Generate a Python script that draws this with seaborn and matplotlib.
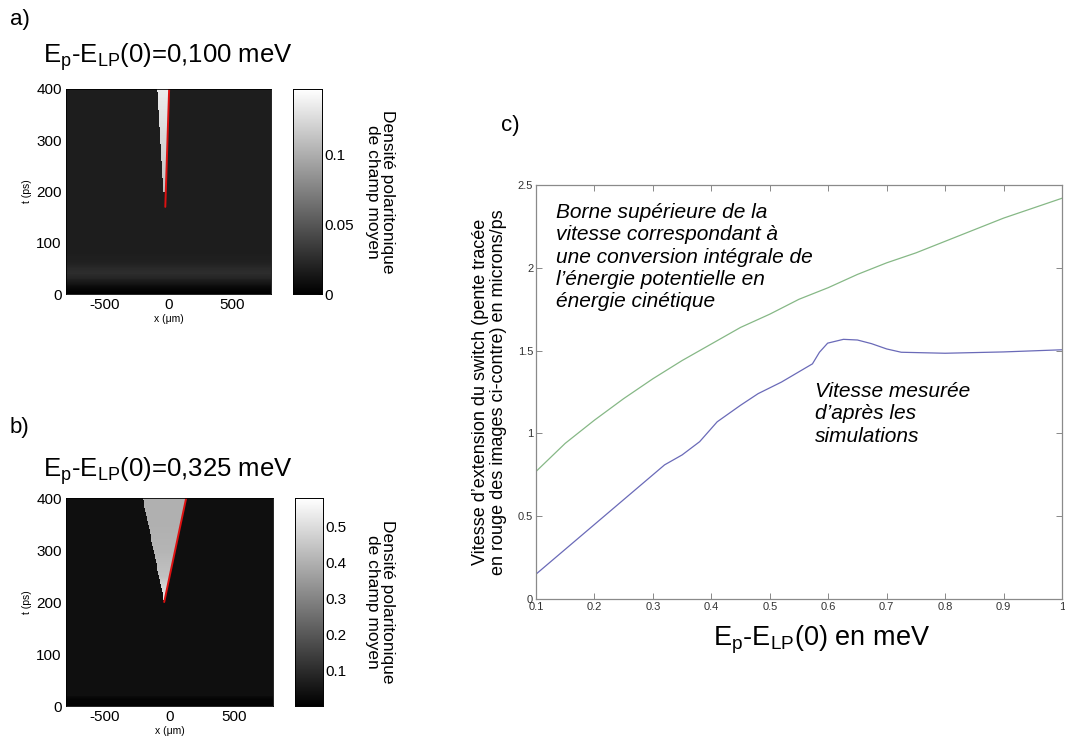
import numpy as np
import pandas as pd
import seaborn as sns
import matplotlib
matplotlib.use("Agg")
import matplotlib.pyplot as plt

sns.set_theme(style="white")
plt.rcParams['font.family'] = ['Liberation Sans', 'DejaVu Sans']
plt.rcParams['mathtext.fontset'] = 'custom'
plt.rcParams['mathtext.rm'] = 'Liberation Sans'
plt.rcParams['mathtext.it'] = 'Liberation Sans:italic'
for k in ['text.color', 'axes.labelcolor', 'xtick.color', 'ytick.color']:
    plt.rcParams[k] = 'black'

# ---- panel c data ----
e_green = [0.10, 0.15, 0.20, 0.25, 0.30, 0.35, 0.40, 0.45, 0.50, 0.55, 0.60,
           0.65, 0.70, 0.75, 0.80, 0.85, 0.90, 0.95, 1.00]
v_green = [0.77, 0.94, 1.08, 1.21, 1.33, 1.44, 1.54, 1.64, 1.72, 1.81, 1.88,
           1.96, 2.03, 2.09, 2.16, 2.23, 2.30, 2.36, 2.42]
e_blue = [0.10, 0.15, 0.20, 0.25, 0.30, 0.32, 0.35, 0.38, 0.41, 0.45, 0.48,
          0.52, 0.573, 0.585, 0.599, 0.626, 0.65, 0.674, 0.70, 0.725, 0.80,
          0.90, 1.00]
v_blue = [0.15, 0.30, 0.45, 0.60, 0.75, 0.81, 0.87, 0.95, 1.07, 1.17, 1.24,
          1.31, 1.42, 1.49, 1.545, 1.568, 1.564, 1.542, 1.51, 1.49, 1.484,
          1.492, 1.505]

# ---- panels a / b : wedge boundaries and intensities ----
t_edges_a = [200, 250, 300, 350, 400]
left_a = [-45, -55, -65, -75, -85]
right_a = [-20, -15, -8, -2, 5]
wedge_a = [0.11, 0.118, 0.124, 0.13, 0.136]
t_bg_a = [0, 10, 20, 30, 40, 50, 60, 80, 400]
bg_a = [0.0, 0.004, 0.012, 0.021, 0.026, 0.024, 0.019, 0.017, 0.017]
red_t_a = [170, 400]
red_x_a = [-25, 5]

t_edges_b = [200, 250, 300, 350, 400]
left_b = [-41, -82, -124, -165, -206]
right_b = [-41, 2, 45, 87, 129]
wedge_b = [0.55, 0.44, 0.41, 0.40, 0.40]
t_bg_b = [0, 12, 20, 400]
bg_b = [0.008, 0.01, 0.035, 0.035]
red_t_b = [200, 400]
red_x_b = [-41, 129]

X_MIN, X_MAX, T_MAX = -800, 800, 400
NX, NT = 240, 240
xs = np.linspace(X_MIN, X_MAX, NX)
ts = np.linspace(T_MAX, 0, NT)


def build_map(t_edges, left, right, wedge, t_bg, bg):
    rows = []
    for t in ts:
        row = np.full(NX, np.interp(t, t_bg, bg))
        if t >= t_edges[0]:
            lo = np.interp(t, t_edges, left)
            hi = np.interp(t, t_edges, right)
            row[(xs >= lo) & (xs <= hi)] = np.interp(t, t_edges, wedge)
        rows.append(row)
    return pd.DataFrame(rows, index=ts, columns=xs)


def col_of(x):
    return (np.asarray(x) - X_MIN) / (X_MAX - X_MIN) * NX


def row_of(t):
    return (T_MAX - np.asarray(t)) / T_MAX * NT


W, H = 1065, 745
fig = plt.figure(figsize=(W / 100, H / 100), dpi=100)


def box(l, t, r, b):
    return [l / W, 1 - b / H, (r - l) / W, (b - t) / H]


def map_panel(rect, crect, df, vmax, cticks, red_x, red_t, title, ty, ly):
    ax = fig.add_axes(box(*rect))
    cax = fig.add_axes(box(*crect))
    sns.heatmap(df, ax=ax, cbar_ax=cax, cmap='gray', vmin=0, vmax=vmax,
                xticklabels=False, yticklabels=False, rasterized=True)
    ax.plot(col_of(red_x), row_of(red_t), color='#dd1111', lw=1.4)
    ax.set_xticks(col_of([-500, 0, 500]))
    ax.set_xticklabels(['-500', '0', '500'], fontsize=11)
    ax.set_yticks(row_of([0, 100, 200, 300, 400]))
    ax.set_yticklabels(['0', '100', '200', '300', '400'], fontsize=11, rotation=0)
    ax.tick_params(length=0, pad=3)
    ax.set_xlabel('x (\u03bcm)', fontsize=7.5, labelpad=1)
    ax.set_ylabel('t (ps)', fontsize=7.5, labelpad=3)
    for s in ax.spines.values():
        s.set_visible(True)
        s.set_color('black')
        s.set_linewidth(0.6)
    cax.set_yticks(cticks)
    cax.set_yticklabels([('%g' % c) for c in cticks], fontsize=11)
    cax.tick_params(length=3, width=0.6, direction='in', pad=2)
    cax.yaxis.set_ticks_position('right')
    for s in cax.spines.values():
        s.set_visible(True)
        s.set_color('black')
        s.set_linewidth(0.6)
    fig.text(43 / W, 1 - ty / H, title, fontsize=18.5, ha='left', va='center')
    fig.text(10 / W, 1 - ly[1] / H, ly[0], fontsize=16, ha='left', va='center')
    cy = (rect[1] + rect[3]) / 2
    fig.text(380 / W, 1 - cy / H, 'Densit\u00e9 polaritonique\nde champ moyen',
             fontsize=12.5, rotation=-90, ha='center', va='center',
             multialignment='center', linespacing=1.0)


map_a = build_map(t_edges_a, left_a, right_a, wedge_a, t_bg_a, bg_a)
map_b = build_map(t_edges_b, left_b, right_b, wedge_b, t_bg_b, bg_b)

map_panel((66, 89, 271, 294), (293, 89, 322, 294), map_a, 0.147, [0, 0.05, 0.1],
          red_x_a, red_t_a, r'E$_\mathrm{p}$-E$_\mathrm{LP}$(0)=0,100 meV',
          57, ('a)', 20))
map_panel((66, 498, 273, 706), (295, 498, 323, 706), map_b, 0.58,
          [0.1, 0.2, 0.3, 0.4, 0.5], red_x_b, red_t_b,
          r'E$_\mathrm{p}$-E$_\mathrm{LP}$(0)=0,325 meV', 471, ('b)', 428))

# ---- panel c ----
axc = fig.add_axes(box(536, 185, 1062, 599))
sns.lineplot(x=e_green, y=v_green, ax=axc, color='#86b886', lw=0.9)
sns.lineplot(x=e_blue, y=v_blue, ax=axc, color='#6a6ab8', lw=0.9)
axc.set_xlim(0.1, 1.0)
axc.set_ylim(0, 2.5)
axc.set_xticks(np.arange(0.1, 1.01, 0.1))
axc.set_xticklabels(['0.1', '0.2', '0.3', '0.4', '0.5', '0.6', '0.7', '0.8', '0.9', '1'])
axc.set_yticks([0, 0.5, 1, 1.5, 2, 2.5])
axc.set_yticklabels(['0', '0.5', '1', '1.5', '2', '2.5'])
axc.tick_params(direction='in', length=4, width=0.7, color='#888888',
                labelsize=8, labelcolor='#333333', top=True, right=True,
                bottom=True, left=True, pad=2)
for s in axc.spines.values():
    s.set_color('#8a8a8a')
    s.set_linewidth(0.9)
axc.set_ylabel("Vitesse d\u2019extension du switch (pente trac\u00e9e\n"
               "en rouge des images ci-contre) en microns/ps",
               fontsize=13, labelpad=8, linespacing=1.05)
fig.text(822 / W, 1 - 640 / H, r'E$_\mathrm{p}$-E$_\mathrm{LP}$(0) en meV',
         fontsize=19.5, ha='center', va='center')

fig.text(510 / W, 1 - 125 / H, 'c)', fontsize=16, ha='center', va='center')
fig.text(556 / W, 1 - 203 / H,
         "Borne sup\u00e9rieure de la\nvitesse correspondant \u00e0\n"
         "une conversion int\u00e9grale de\nl\u2019\u00e9nergie potentielle en\n"
         "\u00e9nergie cin\u00e9tique",
         fontsize=15, style='italic', ha='left', va='top', linespacing=1.22)
fig.text(815 / W, 1 - 382 / H,
         "Vitesse mesur\u00e9e\nd\u2019apr\u00e8s les\nsimulations",
         fontsize=15, style='italic', ha='left', va='top', linespacing=1.22)

fig.savefig('out.png', dpi=100)
